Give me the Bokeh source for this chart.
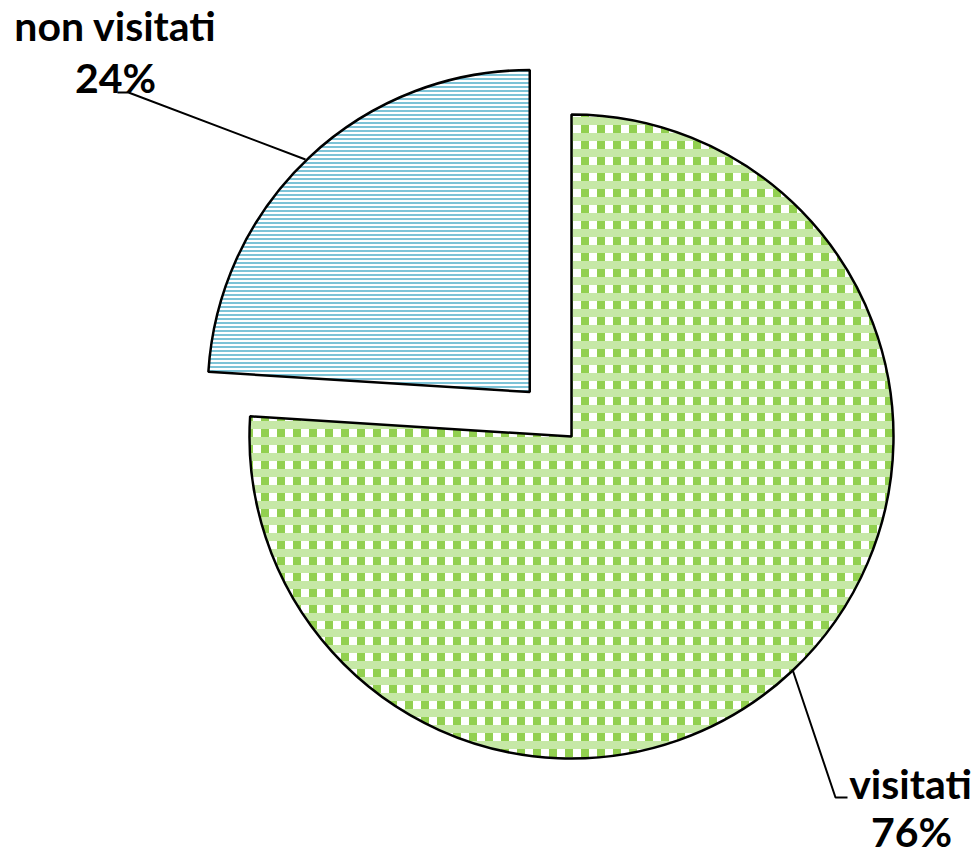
import math
from bokeh.plotting import figure
from bokeh.models import Range1d
from bokeh.core.properties import value
from bokeh.embed import file_html
from bokeh.resources import INLINE

categories = ["visitati", "non visitati"]
values = [76, 24]
labels = ["76%", "24%"]

W, H = 977, 856
REF_H = 856

def ry(y):
    # reference-pixel y (down) -> data y (up)
    return REF_H - y

p = figure(width=W, height=H, x_range=Range1d(0, W), y_range=Range1d(0, H),
           output_backend="svg", toolbar_location=None, min_border=0)
p.axis.visible = False
p.grid.visible = False
p.outline_line_color = None
p.background_fill_color = "white"

total = sum(values)
a_top = math.pi / 2
share_v = values[0] / total * 2 * math.pi
a_split = a_top - share_v + 2 * math.pi
R = 322
cx, cy = 571, ry(436)

green = "#92D050"
green_light = "#C6E8A6"
blue = "#7DC3D7"

vs, ve = a_split, a_top + 2 * math.pi
p.wedge(x=[cx], y=[cy], radius=R, start_angle=[vs], end_angle=[ve],
        fill_color="white", line_color=None,
        hatch_pattern="vertical_line", hatch_color=green, hatch_scale=16, hatch_weight=8)
p.wedge(x=[cx], y=[cy], radius=R, start_angle=[vs], end_angle=[ve],
        fill_color=None, line_color=None,
        hatch_pattern="horizontal_line", hatch_color=green_light, hatch_scale=16, hatch_weight=8)
p.wedge(x=[cx], y=[cy], radius=R, start_angle=[vs], end_angle=[ve],
        fill_color=None, line_color="black", line_width=2.5)

ns, ne = a_top, a_split
mid = (ns + ne) / 2
explode = 61
ncx = cx + explode * math.cos(mid)
ncy = cy + explode * math.sin(mid)
p.wedge(x=[ncx], y=[ncy], radius=R, start_angle=[ns], end_angle=[ne],
        fill_color="white", line_color="black", line_width=2.5,
        hatch_pattern="horizontal_line", hatch_color=blue, hatch_scale=4, hatch_weight=2)

font = value("Lato")
dy = 15  # compensation for rendered baseline offset
p.text(x=[115, 115], y=[ry(40 - dy), ry(92 - dy)], text=[categories[1], labels[1]],
       text_font=font, text_font_style="bold", text_font_size="41px",
       text_align="center", text_baseline="alphabetic", text_color="black")
p.text(x=[910, 911], y=[ry(798 - dy), ry(846 - dy)], text=[categories[0], labels[0]],
       text_font=font, text_font_style="bold", text_font_size="41px",
       text_align="center", text_baseline="alphabetic", text_color="black")

p.line(x=[117, 128, 305], y=[ry(92), ry(92), ry(159)], line_color="black", line_width=2)
p.line(x=[792, 835, 847], y=[ry(669), ry(797), ry(797)], line_color="black", line_width=2)

open("out.html", "w").write(file_html(p, INLINE))
